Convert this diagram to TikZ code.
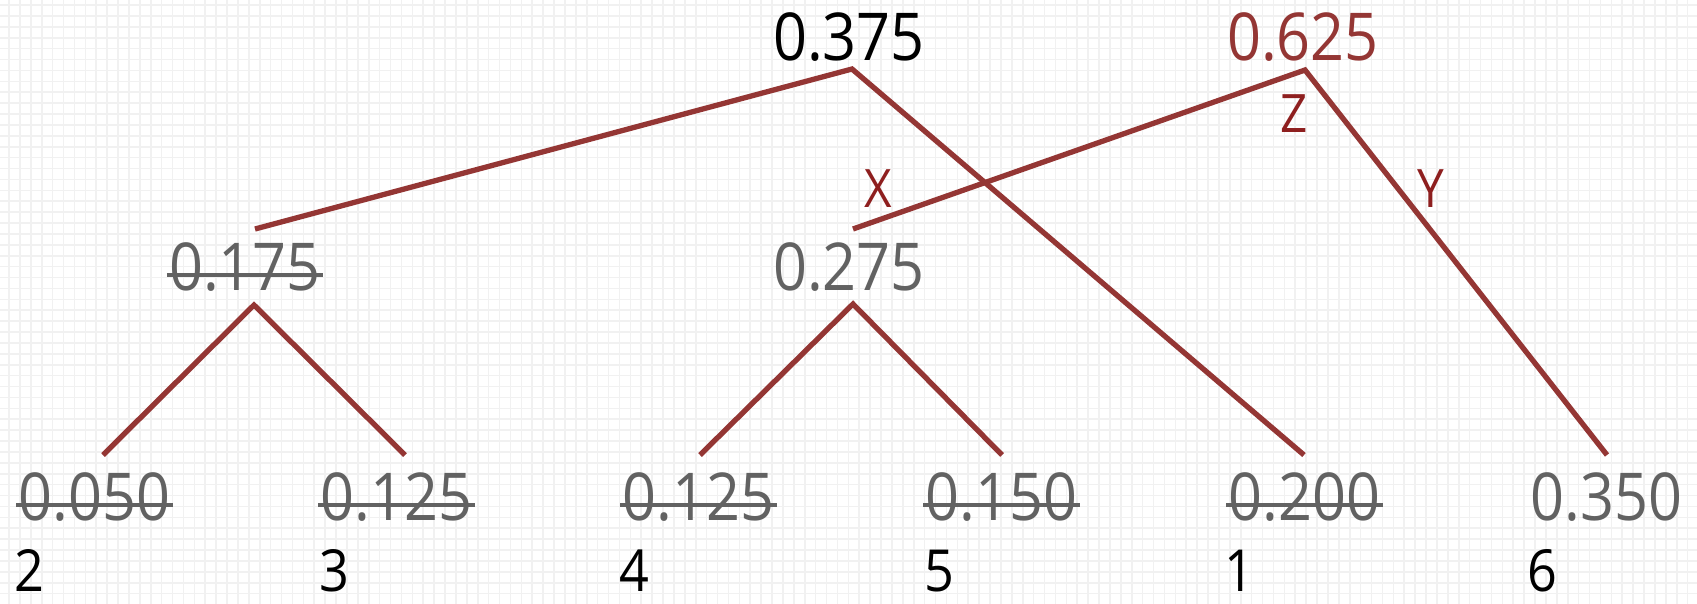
\documentclass[tikz,border=0pt]{standalone}
\usepackage{fontspec}
\setmainfont{Open Sans}[FakeStretch=0.9]
\definecolor{edgec}{HTML}{943634}
\definecolor{letc}{HTML}{8E1F1F}
\definecolor{valc}{HTML}{626262}
\definecolor{gridc}{HTML}{F1F1F1}
\tikzset{
  edgeline/.style={draw=edgec, line width=5.3pt, line join=miter},
  gridline/.style={draw=gridc, line width=1.6pt},
  valnode/.style={inner sep=0pt, anchor=base, font=\fontsize{66}{66}\selectfont, text=valc},
  topnode/.style={inner sep=0pt, anchor=base, font=\fontsize{66}{66}\selectfont},
  keynode/.style={inner sep=0pt, anchor=base west, font=\fontsize{58}{58}\selectfont, text=black},
  letnode/.style={inner sep=0pt, anchor=base, font=\fontsize{53}{53}\selectfont, text=letc},
  strikeline/.style={draw=valc, line width=3.4pt}
}
\newcommand\strikenode[1]{\draw[strikeline] ([xshift=-2pt,yshift=15pt]#1.base west) -- ([xshift=2pt,yshift=15pt]#1.base east);}
\begin{document}
\begin{tikzpicture}[x=1pt,y=-1pt]
\useasboundingbox (0,0) rectangle (1697,603);
\fill[white] (0,0) rectangle (1697,603);
\begin{scope}
\clip (0,0) rectangle (1697,603);
\draw[gridline, xstep=10.9pt, ystep=10.9pt, shift={(9,5)}] (-20,-20) grid (1720,620);
\end{scope}

% value nodes
\node[topnode, text=black] (n375) at (849,60) {0.375};
\node[topnode, text=edgec] (n625) at (1303,60) {0.625};
\node[valnode] (n175) at (245,290) {0.175};
\node[valnode] (n275) at (849,290) {0.275};
\node[valnode] (l050) at (94.5,520) {0.050};
\node[valnode] (l125a) at (396.5,520) {0.125};
\node[valnode] (l125b) at (698.5,520) {0.125};
\node[valnode] (l150) at (1001.5,520) {0.150};
\node[valnode] (l200) at (1304.5,520) {0.200};
\node[valnode] (l350) at (1606.5,520) {0.350};

\strikenode{n175}
\strikenode{l050}
\strikenode{l125a}
\strikenode{l125b}
\strikenode{l150}
\strikenode{l200}

% symbol numbers
\node[keynode] (k2) at (14,591) {2};
\node[keynode] (k3) at (319,591) {3};
\node[keynode] (k4) at (619,591) {4};
\node[keynode] (k5) at (924,591) {5};
\node[keynode] (k1) at (1224,591) {1};
\node[keynode] (k6) at (1527,591) {6};

% connector points
\coordinate (v375) at (852,69);
\coordinate (v625) at (1305,70);
\coordinate (a175) at (255,229);
\coordinate (a275) at (853,229);
\coordinate (v175) at (254,305);
\coordinate (v275) at (853,304);
\coordinate (e050) at (103,455);
\coordinate (e125a) at (405,455);
\coordinate (e125b) at (700,455);
\coordinate (e150) at (1002,455);
\coordinate (e200) at (1304,455);
\coordinate (e350) at (1607,455);

\draw[edgeline] (e050) -- (v175) -- (e125a);
\draw[edgeline] (e125b) -- (v275) -- (e150);
\draw[edgeline] (a175) -- (v375) -- (e200);
\draw[edgeline] (a275) -- (v625) -- (e350);

% edge letters
\node[letnode] (lx) at (878,207) {X};
\node[letnode] (lz) at (1294,132) {Z};
\node[letnode] (ly) at (1431,207) {Y};
\end{tikzpicture}
\end{document}
